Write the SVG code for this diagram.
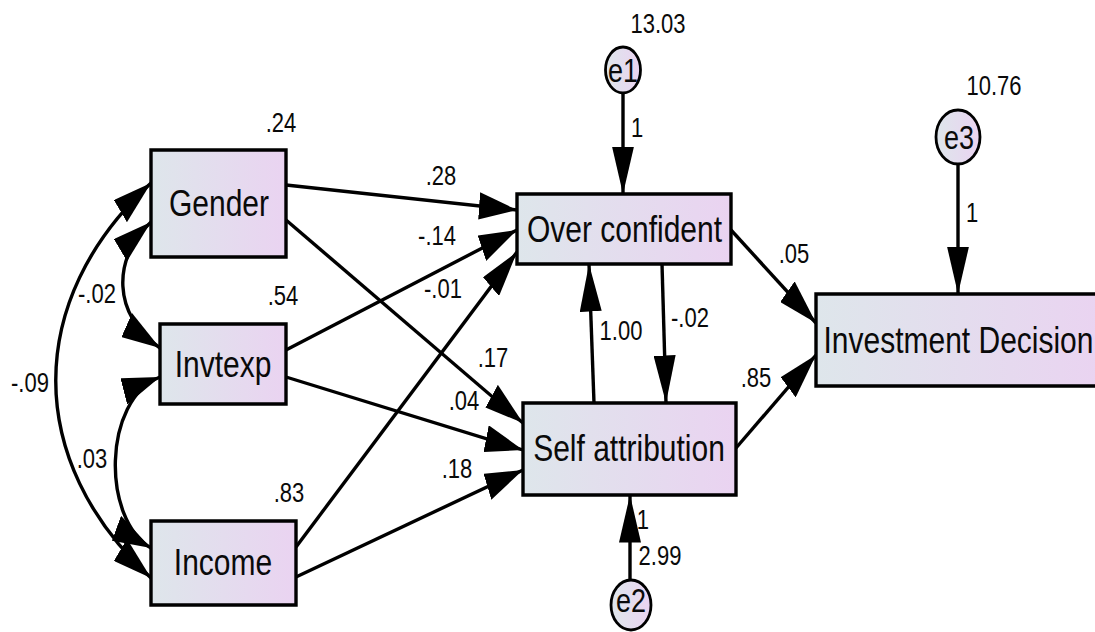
<svg xmlns="http://www.w3.org/2000/svg" width="1095" height="632" viewBox="0 0 1095 632">
<style>
.box{fill:url(#gf);stroke:#000;stroke-width:3.4;vector-effect:non-scaling-stroke}
.err{fill:url(#gf);stroke:#000;stroke-width:2.8;vector-effect:non-scaling-stroke}
.c{fill:none;stroke:#000;stroke-width:3.4;vector-effect:non-scaling-stroke;marker-end:url(#ah)}
.b{marker-start:url(#ah)}
text{font-family:"Liberation Sans",Arial,sans-serif;fill:#0a0a0a}
.n{font-size:30px;text-anchor:middle}
.l{font-size:22px;text-anchor:middle}
.e{font-size:27px;text-anchor:middle}
</style>
<defs>
<linearGradient id="gf" x1="0" y1="0" x2="1" y2="0">
<stop offset="0" stop-color="#dee6eb"/>
<stop offset="1" stop-color="#ead3f1"/>
</linearGradient>
<marker id="ah" markerUnits="userSpaceOnUse" viewBox="0 0 38 22" refX="38" refY="11" markerWidth="38" markerHeight="22" orient="auto-start-reverse">
<path d="M0,0L38,11L0,22z" fill="#000"/>
</marker>
</defs>
<g transform="scale(1 1.25)">
<g id="connectors">
<path class="c b" d="M151,146.4 C24,240 24,368.8 151,462.4"/>
<path class="c b" d="M151,177.6 C112,206.4 112,252 160,278.4"/>
<path class="c b" d="M160,301.6 C102,320 102,416 151,438.4"/>
<path class="c" d="M286,148 L517,168"/>
<path class="c" d="M286,176 L523,338.4"/>
<path class="c" d="M286,280 L517,184"/>
<path class="c" d="M286,301.6 L523,360"/>
<path class="c" d="M296,437.6 L517,201.6"/>
<path class="c" d="M296,461.6 L523,376"/>
<path class="c" d="M623,74.4 L623,155.2"/>
<path class="c" d="M662,211.2 L666,322.4"/>
<path class="c" d="M594,322.4 L589,211.2"/>
<path class="c" d="M731,184 L816,258.4"/>
<path class="c" d="M736,358.4 L816,284"/>
<path class="c" d="M958,132 L958,235.2"/>
<path class="c" d="M630,464 L630,396"/>
<text class="l" x="30" y="313.6">-.09</text>
<text class="l" x="97" y="242.4">-.02</text>
<text class="l" x="92" y="374.4">.03</text>
<text class="l" x="441" y="148">.28</text>
<text class="l" x="437" y="196">-.14</text>
<text class="l" x="443" y="238.4">-.01</text>
<text class="l" x="493" y="293.6">.17</text>
<text class="l" x="464" y="328">.04</text>
<text class="l" x="457" y="382.4">.18</text>
<text class="l" x="637" y="109.6">1</text>
<text class="l" x="621" y="272">1.00</text>
<text class="l" x="690" y="261.6">-.02</text>
<text class="l" x="794" y="210.4">.05</text>
<text class="l" x="756" y="309.6">.85</text>
<text class="l" x="972" y="177.6">1</text>
<text class="l" x="643" y="423.2">1</text>
</g>
<g id="gender">
<rect class="box" x="151" y="120" width="135" height="85.6"/>
<text class="n" x="219" y="173">Gender</text>
<text class="l" x="281" y="105.6">.24</text>
</g>
<g id="invtexp">
<rect class="box" x="160" y="259.2" width="126" height="64"/>
<text class="n" x="223" y="301.6">Invtexp</text>
<text class="l" x="283" y="244">.54</text>
</g>
<g id="income">
<rect class="box" x="151" y="416.8" width="145" height="67.2"/>
<text class="n" x="223" y="460">Income</text>
<text class="l" x="289" y="401.6">.83</text>
</g>
<g id="overconfident">
<rect class="box" x="517" y="155.2" width="214" height="56"/>
<text class="n" x="624.5" y="193.6">Over confident</text>
</g>
<g id="selfattribution">
<rect class="box" x="523" y="322.4" width="213" height="73.6"/>
<text class="n" x="629" y="368.5">Self attribution</text>
</g>
<g id="investmentdecision">
<rect class="box" x="816" y="235.2" width="290" height="73.6"/>
<text class="n" x="958.5" y="282.4">Investment Decision</text>
</g>
<g id="e1">
<ellipse class="err" cx="623" cy="56" rx="17.5" ry="18.4"/>
<text class="e" x="623" y="65.6">e1</text>
<text class="l" x="658" y="26.4">13.03</text>
</g>
<g id="e2">
<ellipse class="err" cx="631" cy="484" rx="20" ry="20"/>
<text class="e" x="631" y="489.6">e2</text>
<text class="l" x="660" y="452">2.99</text>
</g>
<g id="e3">
<ellipse class="err" cx="958" cy="109.6" rx="22" ry="21.6"/>
<text class="e" x="959" y="119.2">e3</text>
<text class="l" x="994" y="76">10.76</text>
</g>
</g>
</svg>
